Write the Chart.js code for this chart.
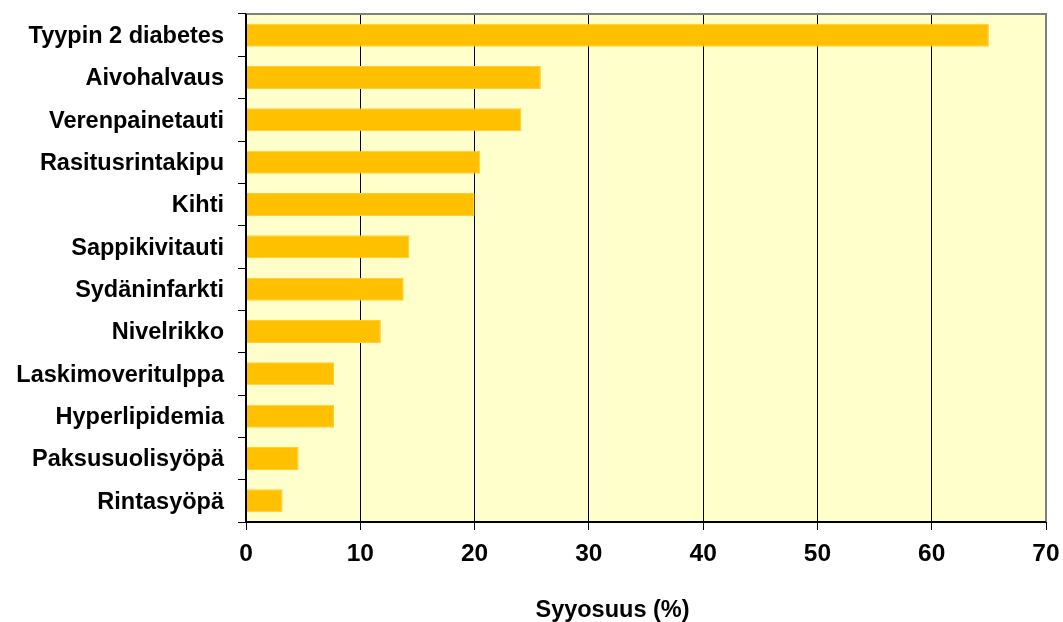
<!DOCTYPE html>
<html><head><meta charset="utf-8">
<script src="https://cdn.jsdelivr.net/npm/chart.js@4"></script>
<style>html,body{margin:0;padding:0;background:#fff}#wrap{width:1063px;height:622px}</style>
</head><body><div id="wrap"><canvas id="c" width="1063" height="622"></canvas></div>
<script>
const categories = ["Tyypin 2 diabetes","Aivohalvaus","Verenpainetauti","Rasitusrintakipu","Kihti","Sappikivitauti","Sydäninfarkti","Nivelrikko","Laskimoveritulppa","Hyperlipidemia","Paksusuolisyöpä","Rintasyöpä"];
const values = [65.0,25.8,24.1,20.5,20.0,14.3,13.8,11.8,7.7,7.7,4.6,3.2];
const xTicks = [0,10,20,30,40,50,60,70];
const axisTitle = "Syyosuus (%)";
const FONT = 'Liberation Sans, Arial, sans-serif';

const bgPlugin = {
  id:'bg',
  beforeDraw(chart){
    const {ctx, chartArea:a} = chart;
    ctx.save(); ctx.fillStyle='#FFFFCC'; ctx.fillRect(a.left,a.top,a.right-a.left,a.bottom-a.top); ctx.restore();
  },
  afterDatasetsDraw(chart){
    const {ctx, chartArea:a} = chart;
    ctx.save(); ctx.strokeStyle='#808080'; ctx.lineWidth=2;
    ctx.beginPath(); ctx.moveTo(a.left,a.top); ctx.lineTo(a.right,a.top); ctx.lineTo(a.right,a.bottom); ctx.stroke();
    ctx.strokeStyle='#000'; ctx.lineWidth=2;
    ctx.beginPath(); ctx.moveTo(a.left,a.top); ctx.lineTo(a.left,a.bottom); ctx.lineTo(a.right,a.bottom); ctx.stroke();
    ctx.restore();
  },
  afterDraw(chart){
    const {ctx} = chart;
    ctx.save(); ctx.fillStyle='#000'; ctx.font='bold 23.5px '+FONT;
    ctx.textAlign='center'; ctx.textBaseline='alphabetic';
    ctx.fillText(axisTitle, 612.5, 617);
    ctx.restore();
  }
};

new Chart(document.getElementById('c'), {
  type:'bar',
  data:{labels:categories, datasets:[{data:values, backgroundColor:'#FFC000', borderColor:'#FFCC33', borderWidth:1, barPercentage:0.545, categoryPercentage:1}]},
  options:{
    indexAxis:'y', responsive:false, animation:false,
    layout:{padding:{top:14,right:17,left:0,bottom:0}},
    plugins:{legend:{display:false}, tooltip:{enabled:false}},
    scales:{
      x:{min:0,max:70,
        afterBuildTicks(s){ s.ticks = xTicks.map(v=>({value:v})); },
        afterFit(s){ s.height=100; s.paddingLeft=0; s.paddingRight=0; },
        grid:{color:'#000',lineWidth:1,tickLength:8,drawTicks:true},
        border:{display:false},
        ticks:{color:'#000',font:{family:FONT,size:24.5,weight:'bold'},padding:10,maxRotation:0},
        title:{display:false}
      },
      y:{
        afterFit(s){ s.width=246; s.paddingTop=0; s.paddingBottom=0; },
        grid:{offset:true,drawOnChartArea:false,drawTicks:true,tickLength:8,color:'#000',lineWidth:1},
        border:{display:false},
        ticks:{color:'#000',font:{family:FONT,size:23.5,weight:'bold'},padding:14,autoSkip:false,labelOffset:1.5}
      }
    }
  },
  plugins:[bgPlugin]
});
</script></body></html>
